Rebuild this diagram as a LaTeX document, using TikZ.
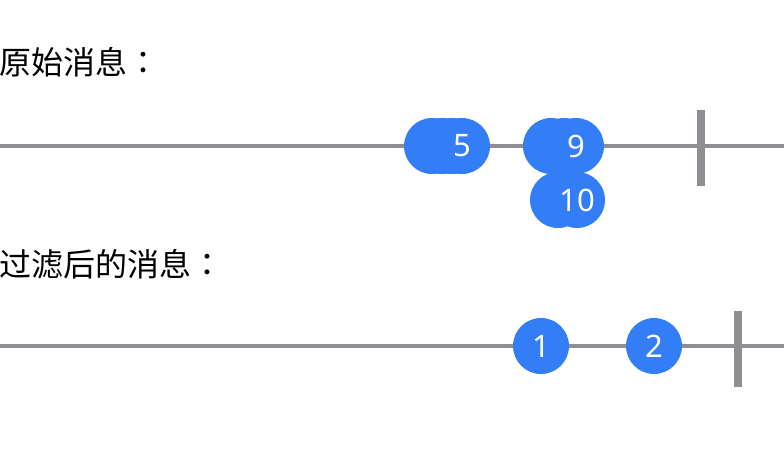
\documentclass[tikz,border=0pt]{standalone}
\usepackage{fontspec}
\newfontfamily\cjk{Noto Sans CJK SC}
\newfontfamily\cjktc{Noto Sans CJK TC}
\newfontfamily\marblefont{Noto Sans}
\definecolor{marbleblue}{RGB}{51,125,246}
\definecolor{linegray}{RGB}{142,142,147}
\begin{document}
\begin{tikzpicture}[x=1pt, y=-1pt,
  timeline/.style={draw=linegray, line width=4pt},
  endtick/.style={draw=linegray, line width=8pt},
  marble/.style={circle, fill=marbleblue, minimum size=56pt, inner sep=0pt,
    text=white, font=\marblefont\fontsize{31}{36}\selectfont},
  caption/.style={anchor=west, inner sep=0pt, font=\cjk\fontsize{32}{38}\selectfont}]
\useasboundingbox (0,0) rectangle (784,454);

% captions
\node[caption] (orig) at (-1,62) {原始消息{\cjktc ：}};
\node[caption] (filt) at (-1,264) {过滤后的消息{\cjktc ：}};

% original sequence
\coordinate (a0) at (0,146);  \coordinate (a1) at (784,146);
\coordinate (at0) at (701,110); \coordinate (at1) at (701,186);
\draw[timeline] (a0) -- (a1);
\draw[endtick] (at0) -- (at1);

\node[marble] (m1) at (432,146) {};
\node[marble] (m2) at (442,146) {};
\node[marble] (m4) at (452,146) {};
\node[marble] (m5) at (462,146) {5};
\node[marble] (m6) at (551,146) {};
\node[marble] (m8) at (564,146) {};
\node[marble] (m9) at (576,146) {9};
\node[marble] (m7) at (558,200) {};
\node[marble] (m10) at (577,200) {10};

% filtered sequence
\coordinate (b0) at (0,346);  \coordinate (b1) at (784,346);
\coordinate (bt0) at (738,311); \coordinate (bt1) at (738,387);
\draw[timeline] (b0) -- (b1);
\draw[endtick] (bt0) -- (bt1);

\node[marble] (f1) at (541,346) {1};
\node[marble] (f2) at (654,346) {2};
\end{tikzpicture}
\end{document}
